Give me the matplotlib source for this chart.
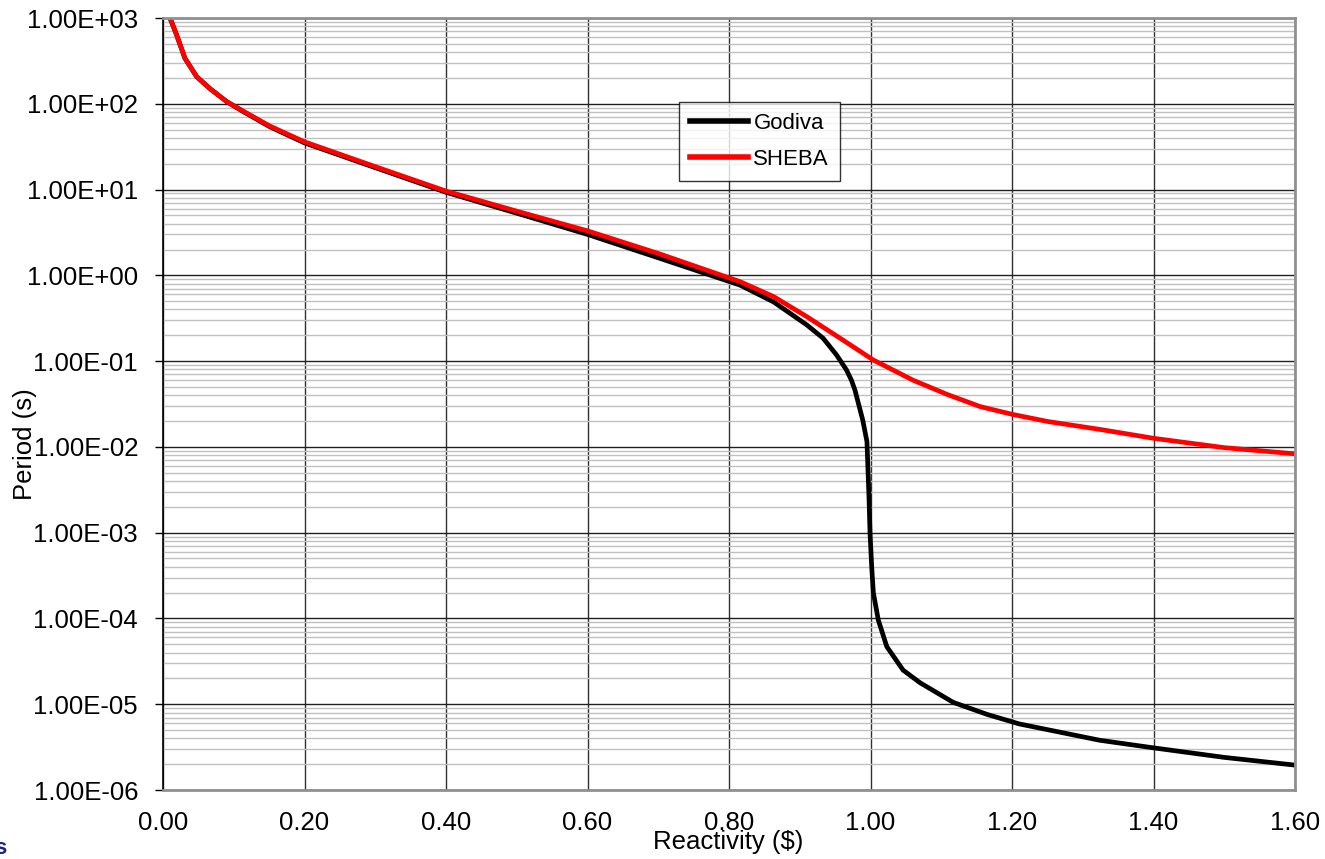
import matplotlib
matplotlib.use("Agg")
import matplotlib.pyplot as plt
from matplotlib.ticker import LogLocator, FixedLocator, FuncFormatter
import numpy as np

plt.rcParams['font.family'] = ['Liberation Sans', 'DejaVu Sans']

godiva_x = [0.0099, 0.0193, 0.031, 0.0476, 0.066, 0.09, 0.1135, 0.151, 0.2, 0.3, 0.4, 0.5,
            0.6, 0.7, 0.8155, 0.863, 0.91, 0.933, 0.952, 0.966, 0.973, 0.978, 0.989, 0.995,
            0.998, 0.9993, 1.0017, 1.004, 1.011, 1.023, 1.046, 1.07, 1.117, 1.165, 1.21,
            1.324, 1.4, 1.5, 1.6]
godiva_y = [1000, 633, 339, 207, 151, 106, 81, 54, 35, 18, 9.3, 5.3,
            3.0, 1.6, 0.77, 0.49, 0.264, 0.185, 0.118, 0.079, 0.06, 0.046, 0.0206, 0.0115,
            0.0024, 1.0e-3, 4.0e-4, 2.0e-4, 9.6e-5, 4.7e-5, 2.5e-5, 1.78e-5, 1.05e-5, 7.6e-6, 5.9e-6,
            3.8e-6, 3.1e-6, 2.4e-6, 1.95e-6]

sheba_x = [0.0099, 0.0193, 0.031, 0.0476, 0.066, 0.09, 0.1135, 0.151, 0.2, 0.3, 0.4, 0.5,
           0.6, 0.7, 0.8155, 0.863, 0.91, 0.957, 1.004, 1.06, 1.108, 1.155, 1.2, 1.25,
           1.324, 1.4, 1.5, 1.6]
sheba_y = [1000, 633, 339, 207, 151, 106, 82, 55, 36, 18.5, 9.6, 5.6,
           3.3, 1.8, 0.845, 0.565, 0.33, 0.185, 0.103, 0.06, 0.041, 0.0295, 0.024, 0.0198,
           0.016, 0.0126, 0.0098, 0.0083]

x_ticks = [0.0, 0.2, 0.4, 0.6, 0.8, 1.0, 1.2, 1.4, 1.6]

fig = plt.figure(figsize=(13.25, 8.59), dpi=100)
ax = fig.add_axes([163/1325, 1 - 790/859, (1295-163)/1325, (790-18)/859])

ax.set_yscale('log')
ax.set_xlim(0, 1.6)
ax.set_ylim(1e-6, 1e3)

ax.yaxis.set_major_locator(LogLocator(base=10, numticks=20))
ax.yaxis.set_minor_locator(LogLocator(base=10, subs=np.arange(2, 10), numticks=20))
ax.yaxis.set_minor_formatter(FuncFormatter(lambda v, p: ''))
ax.yaxis.set_major_formatter(FuncFormatter(lambda v, p: ('%.2E' % v)))
ax.xaxis.set_major_locator(FixedLocator(x_ticks))
ax.xaxis.set_major_formatter(FuncFormatter(lambda v, p: '%.2f' % v))

ax.grid(True, which='minor', axis='y', color='#c0c0c0', lw=1.0)
ax.grid(True, which='major', axis='y', color='#202020', lw=1.0)
ax.grid(True, which='major', axis='x', color='#303030', lw=1.0)
ax.set_axisbelow(True)

ax.plot(godiva_x, godiva_y, color='black', lw=3.4, label='Godiva', solid_joinstyle='round')
ax.plot(sheba_x, sheba_y, color='#ff0000', lw=3.4, label='SHEBA', solid_joinstyle='round')

for s in ['top', 'right', 'bottom']:
    ax.spines[s].set_color('#909090')
    ax.spines[s].set_linewidth(2)
ax.spines['left'].set_color('black')
ax.spines['left'].set_linewidth(1.2)

ax.tick_params(axis='y', which='major', length=6, width=1, direction='out', labelsize=18.5, pad=12)
ax.tick_params(axis='y', which='minor', length=0)
ax.tick_params(axis='x', which='major', length=0, labelsize=18.5, pad=15)

ax.set_xlabel('Reactivity ($)', fontsize=18.5)
ax.xaxis.set_label_coords((728-163)/1132, -(842-790)/772)
ax.xaxis.label.set_va('center')
ax.set_ylabel('Period (s)', fontsize=18.5)
ax.yaxis.set_label_coords((25-163)/1132, (790-444)/772)
ax.yaxis.label.set_va('center')

leg = ax.legend(loc='upper left', bbox_to_anchor=((679-163)/1132, 1 - (102-18)/772),
                fontsize=16, frameon=True, fancybox=False, handlelength=2.6,
                handletextpad=0.25, borderpad=0.5, labelspacing=0.68, borderaxespad=0)
leg.get_frame().set_edgecolor('black')
leg.get_frame().set_linewidth(1.0)
for line in leg.get_lines():
    line.set_linewidth(4)

fig.text(-0.004, 1 - 848/859, 's', fontsize=16, color='#1a237e', fontweight='bold',
         va='center', ha='left')

fig.savefig('out.png', dpi=100)
